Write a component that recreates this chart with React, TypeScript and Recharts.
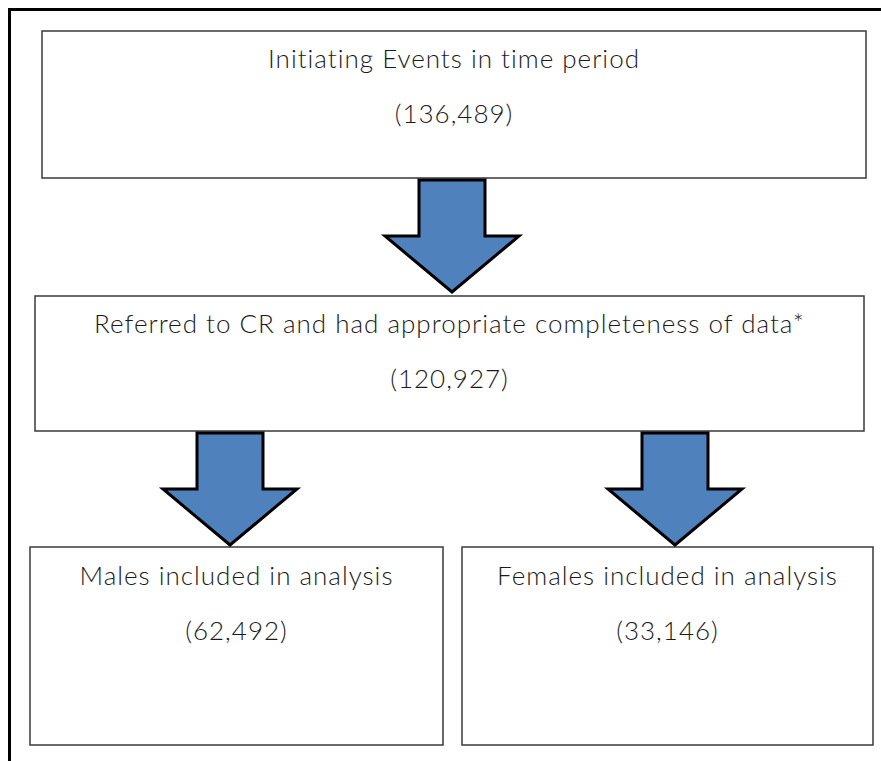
import { Surface, Rectangle, Polygon, Text } from "recharts";

const stageLabels = [
  "Initiating Events in time period",
  "Referred to CR and had appropriate completeness of data*",
  "Males included in analysis",
  "Females included in analysis",
];
const stageCounts = [136489, 120927, 62492, 33146];

// layout of the boxes (x, y, w, h) and arrows (shaft top, centre x)
const boxes = [
  { x: 42, y: 31, w: 824, h: 147 },
  { x: 35, y: 296, w: 829, h: 135 },
  { x: 30, y: 547, w: 413, h: 198 },
  { x: 462, y: 547, w: 411, h: 198 },
];
const arrows = [
  { cx: 452, top: 180, tip: 292 },
  { cx: 230, top: 433, tip: 545 },
  { cx: 675, top: 433, tip: 545 },
];

const W = 881;
const H = 761;
const FONT = "Lato, 'Open Sans', sans-serif";
const textStyle = { fontFamily: FONT, fontSize: 26, fill: "#1a1a1a", fontWeight: 300, letterSpacing: 1 };

function arrowPoints(cx: number, top: number, tip: number) {
  const shaft = 33;
  const head = 67;
  const neck = top + (tip - top) * 0.5;
  return [
    { x: cx - shaft, y: top },
    { x: cx + shaft, y: top },
    { x: cx + shaft, y: neck },
    { x: cx + head, y: neck },
    { x: cx, y: tip },
    { x: cx - head, y: neck },
    { x: cx - shaft, y: neck },
  ];
}

export default function App() {
  return (
    <div style={{ position: "absolute", left: 0, top: 0, width: W, height: H, background: "#fff" }}>
      <Surface width={W} height={H}>
        <line x1={9.5} y1={8} x2={9.5} y2={H} stroke="#000" strokeWidth={3} />
        <line x1={8} y1={9.5} x2={W} y2={9.5} stroke="#000" strokeWidth={3} />
        {boxes.map((b, i) => (
          <Rectangle
            key={"b" + i}
            x={b.x}
            y={b.y}
            width={b.w}
            height={b.h}
            fill="#fff"
            stroke="#3a3a3a"
            strokeWidth={1.5}
          />
        ))}
        {arrows.map((a, i) => (
          <Polygon
            key={"a" + i}
            points={arrowPoints(a.cx, a.top, a.tip)}
            fill="#4F81BD"
            stroke="#000"
            strokeWidth={3}
            strokeLinejoin="miter"
          />
        ))}
        {boxes.map((b, i) => {
          const cx = b.x + b.w / 2;
          const firstY = i < 2 ? b.y + 28 : b.y + 29;
          return (
            <g key={"t" + i}>
              <Text x={cx} y={firstY} textAnchor="middle" verticalAnchor="middle" style={textStyle}>
                {stageLabels[i]}
              </Text>
              <Text x={cx} y={firstY + 55} textAnchor="middle" verticalAnchor="middle" style={textStyle}>
                {"(" + stageCounts[i].toLocaleString("en-US") + ")"}
              </Text>
            </g>
          );
        })}
      </Surface>
    </div>
  );
}
